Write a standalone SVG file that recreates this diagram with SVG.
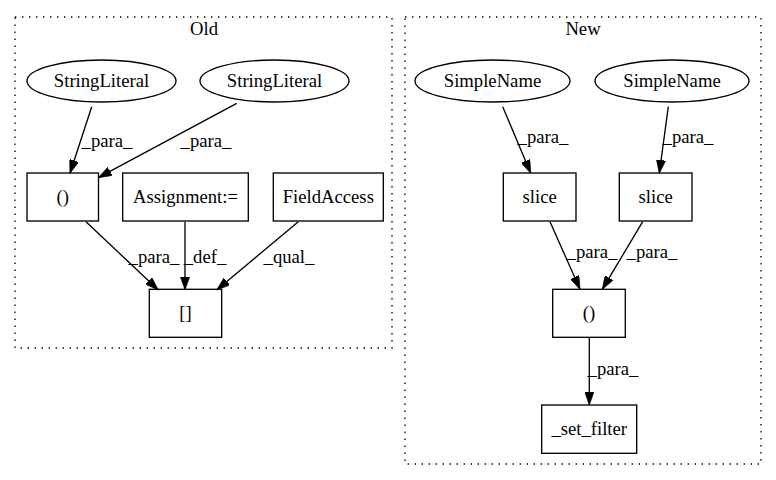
<svg xmlns="http://www.w3.org/2000/svg" width="776" height="480" viewBox="0 0 776 480">
<style>
text{font-family:"Liberation Serif","Times New Roman",serif;font-size:18.67px;fill:#000;text-anchor:middle}
.cl{fill:none;stroke:#000;stroke-width:1.33;stroke-dasharray:1.4,5.6}
.n{fill:none;stroke:#000;stroke-width:1.33}
.e{fill:none;stroke:#000;stroke-width:1.33;marker-end:url(#ah)}
</style>
<defs>
<marker id="ah" viewBox="0 0 10 7" refX="10" refY="3.5" markerWidth="13.3" markerHeight="9.3" markerUnits="userSpaceOnUse" orient="auto">
<path d="M0,0 L10,3.5 L0,7 z" fill="#000" stroke="#000" stroke-width="0.5"/>
</marker>
</defs>
<rect width="776" height="480" fill="#fff"/>
<g id="cluster_old">
<rect class="cl" x="15" y="17" width="377" height="331"/>
<text x="204" y="35">Old</text>
</g>
<g id="cluster_new">
<rect class="cl" x="405" y="17" width="356" height="447"/>
<text x="583" y="35">New</text>
</g>
<g id="connectors">
<path class="e" d="M91.7,106.7 L70,173.3"/>
<text x="107" y="147">_para_</text>
<path class="e" d="M236.7,103.3 L98.3,177.7"/>
<text x="206" y="147">_para_</text>
<path class="e" d="M86,221.7 L158.3,290"/>
<text x="154" y="263">_para_</text>
<path class="e" d="M185,221.7 L185,290"/>
<text x="205" y="263">_def_</text>
<path class="e" d="M298.3,221.7 L216.7,290"/>
<text x="289" y="263">_qual_</text>
<path class="e" d="M502.7,106.7 L530.7,173.3"/>
<text x="543" y="143">_para_</text>
<path class="e" d="M668.3,106.7 L659.3,173.3"/>
<text x="688" y="143">_para_</text>
<path class="e" d="M550,221.7 L580,289.3"/>
<text x="592" y="258">_para_</text>
<path class="e" d="M642.7,221.7 L602.3,289.3"/>
<text x="652" y="258">_para_</text>
<path class="e" d="M589.3,337.3 L589.3,405"/>
<text x="613" y="375">_para_</text>
</g>
<g id="old_stringliteral1">
<ellipse class="n" cx="101.5" cy="81" rx="74.5" ry="21"/>
<text x="101.5" y="87">StringLiteral</text>
</g>
<g id="old_stringliteral2">
<ellipse class="n" cx="274.5" cy="81" rx="74.5" ry="21"/>
<text x="274.5" y="87">StringLiteral</text>
</g>
<g id="old_paren">
<rect class="n" x="27" y="173" width="71.5" height="48"/>
<text x="62.7" y="203">()</text>
</g>
<g id="old_assignment">
<rect class="n" x="122.7" y="173" width="125.6" height="48"/>
<text x="185.5" y="203">Assignment:=</text>
</g>
<g id="old_fieldaccess">
<rect class="n" x="273.3" y="173" width="110" height="48"/>
<text x="328.3" y="203">FieldAccess</text>
</g>
<g id="old_index">
<rect class="n" x="149.3" y="289.3" width="72.4" height="48"/>
<text x="185.5" y="319">[]</text>
</g>
<g id="new_simplename1">
<ellipse class="n" cx="492.5" cy="81" rx="77.5" ry="21"/>
<text x="492.5" y="87">SimpleName</text>
</g>
<g id="new_simplename2">
<ellipse class="n" cx="672" cy="81" rx="77" ry="21"/>
<text x="672" y="87">SimpleName</text>
</g>
<g id="new_slice1">
<rect class="n" x="503.3" y="173" width="72.7" height="48"/>
<text x="539.7" y="203">slice</text>
</g>
<g id="new_slice2">
<rect class="n" x="619.3" y="173" width="72.7" height="48"/>
<text x="655.7" y="203">slice</text>
</g>
<g id="new_paren">
<rect class="n" x="552.7" y="289.3" width="72.6" height="48"/>
<text x="589" y="319">()</text>
</g>
<g id="new_set_filter">
<rect class="n" x="541.7" y="405" width="95" height="48.3"/>
<text x="589.2" y="435">_set_filter</text>
</g>
</svg>
